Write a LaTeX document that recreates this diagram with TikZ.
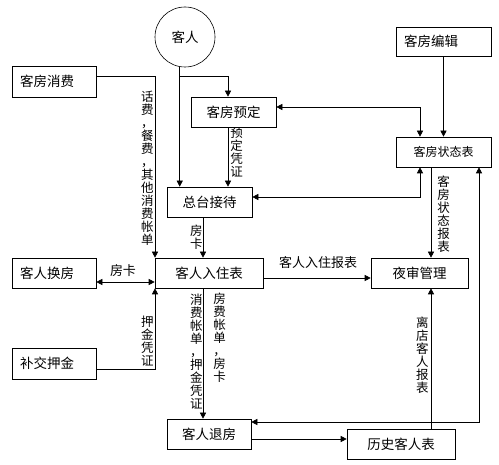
\documentclass[tikz,border=0pt]{standalone}
\usepackage{fontspec}
\newfontfamily\cjk{Noto Sans CJK SC}
\usetikzlibrary{arrows.meta,positioning}

\begin{document}
\begin{tikzpicture}[x=1pt, y=-1pt,
    proc/.style={draw, minimum height=30pt, inner sep=0pt, font=\cjk\fontsize{13.5}{15}\selectfont},
    lproc/.style={proc, inner xsep=8pt, text width=#1, align=left},
    small/.style={font=\cjk\fontsize{13}{15}\selectfont},
    vlabel/.style={font=\cjk\fontsize{12.5}{13}\selectfont, align=center, inner sep=0pt},
    line width=0.6pt,
    >={Triangle[length=6pt,width=6pt]}
  ]
  \useasboundingbox (0,0) rectangle (499,465);

  %-----------------------------
  % boxes
  %-----------------------------
  \node[circle, draw, minimum size=60pt, inner sep=0pt, font=\cjk\fontsize{13.5}{15}\selectfont]
    (guest) at (185,37) {客人};
  \node[lproc=68pt, minimum height=31pt] (consume) at (54,81.5) {客房消费};
  \node[proc, minimum width=85pt] (reserve) at (233.5,112) {客房预定};
  \node[lproc=79pt, minimum height=29pt] (edit) at (443.5,41.5) {客房编辑};
  \node[proc, minimum width=95pt, font=\cjk\fontsize{12}{14}\selectfont] (status) at (443.5,152) {客房状态表};
  \node[proc, minimum width=85pt] (desk) at (209.5,202) {总台接待};
  \node[proc, minimum width=108pt] (checkin) at (209,273) {客人入住表};
  \node[lproc=68pt] (swap) at (54,273) {客人换房};
  \node[proc, minimum width=97pt] (audit) at (419.5,273) {夜审管理};
  \node[lproc=68pt, minimum height=31pt] (deposit) at (54,363.5) {补交押金};
  \node[proc, minimum width=84pt] (checkout) at (209,434) {客人退房};
  \node[proc, minimum width=108pt] (history) at (401,444) {历史客人表};

  %-----------------------------
  % guest and reservation
  %-----------------------------
  \coordinate (split) at (180,76);
  \draw[->] (guest.-100) -- (guest.-100 |- desk.north);
  \draw[->] (split) -| ([xshift=-5.5pt]reserve.north);
  \draw[->] ([xshift=-5.5pt]reserve.south) -- ([xshift=-5.5pt]reserve.south |- desk.north);
  \node[vlabel, anchor=west] (lbl-res) at (230,152) {预\\定\\凭\\证};

  %-----------------------------
  % room status
  %-----------------------------
  \draw[->] (edit) -- (status);
  \draw[<->] ([yshift=5pt]reserve.east) -| ([xshift=-23.5pt]status.north);
  \draw[<->] ([xshift=-23.5pt]status.south) |- ([yshift=5pt]desk.east);
  \draw[->] ([xshift=-12.5pt]status.south) -- ([xshift=-12.5pt]status.south |- audit.north);
  \node[vlabel, anchor=west] (lbl-stat) at (437,214) {客\\房\\状\\态\\报\\表};
  \draw[<->] ([xshift=35.5pt]status.south) |- ([yshift=12pt]checkout.east);

  %-----------------------------
  % check in
  %-----------------------------
  \draw[->] ([yshift=5.5pt]consume.east) -| ([xshift=0.3pt]checkin.north west);
  \node[vlabel, anchor=east] (lbl-bill) at (154,168) {话\\费\\，\\餐\\费\\，\\其\\他\\消\\费\\帐\\单};
  \draw[->] ([xshift=-6.5pt]desk.south) -- ([xshift=-6.5pt]desk.south |- checkin.north);
  \node[vlabel, anchor=east] (lbl-card) at (203,237) {房\\卡};
  \draw[<->] ([yshift=-9pt]swap.east) -- ([yshift=-9pt]swap.east -| checkin.west);
  \node[small] (lbl-swap) at (123,271) {房卡};
  \draw[->] ([yshift=-5.5pt]deposit.east) -| ([xshift=0.3pt]checkin.south west);
  \node[vlabel, anchor=east] (lbl-dep) at (154,341) {押\\金\\凭\\证};
  \draw[->] ([yshift=-5pt]checkin.east) -- ([yshift=-5pt]audit.west);
  \node[small] (lbl-rep) at (318,263) {客人入住报表};

  %-----------------------------
  % check out
  %-----------------------------
  \draw[->] ([xshift=-6pt]checkin.south) -- ([xshift=-6pt]checkout.north);
  \node[vlabel, anchor=east] (lbl-out1) at (203,352) {消\\费\\帐\\单\\，\\押\\金\\凭\\证};
  \node[vlabel, anchor=west] (lbl-out2) at (213,338) {房\\费\\帐\\单\\，\\房\\卡};
  \draw[->] ([yshift=-5pt]checkout.east) -- ([yshift=-5pt]checkout.east -| history.west);
  \draw[->] ([xshift=30pt]history.north) -- ([xshift=30pt]history.north |- audit.south);
  \node[vlabel, anchor=east] (lbl-hist) at (429,355) {离\\店\\客\\人\\报\\表};

\end{tikzpicture}
\end{document}
